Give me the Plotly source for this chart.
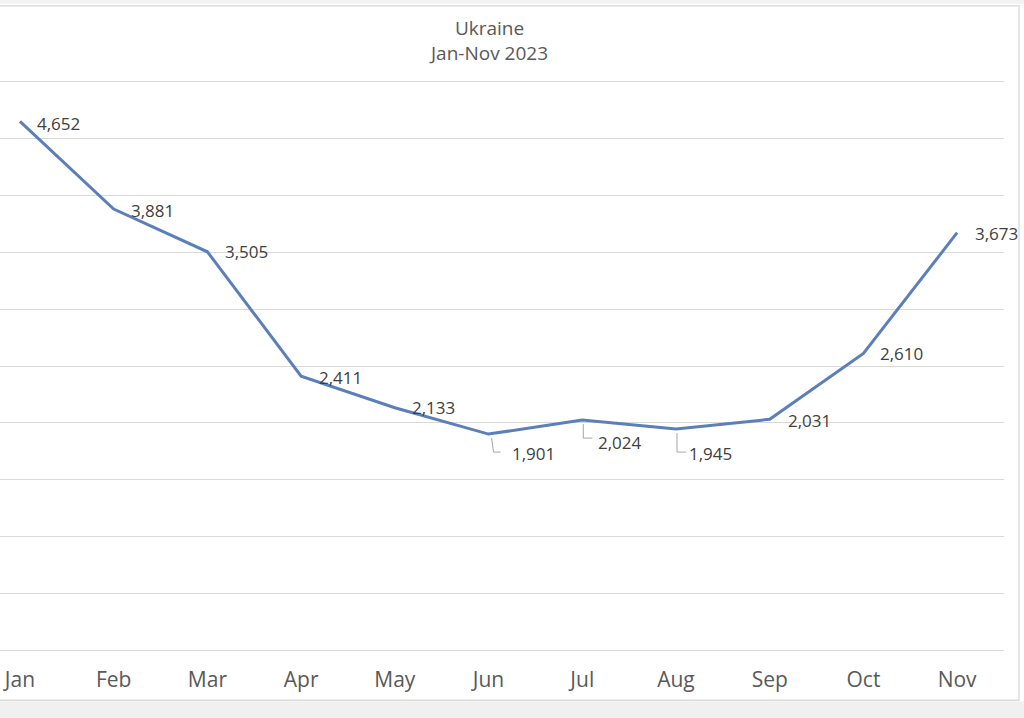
import plotly.graph_objects as go

# ---- data ----
months = ["Jan", "Feb", "Mar", "Apr", "May", "Jun", "Jul", "Aug", "Sep", "Oct", "Nov"]
values = [4652, 3881, 3505, 2411, 2133, 1901, 2024, 1945, 2031, 2610, 3673]
title_lines = ["Ukraine", "Jan-Nov 2023"]

# ---- styling / label placement (screen pixels, dy positive = down) ----
label_dx = [17, 17, 18, 18, 17, 23, 16, 13, 18, 17, 18]
label_dy = [2, 1, 0, 1, 0, 19, 22, 24, 1, 0, 1]
# leader lines (pixel paths relative to point, y up) for moved labels
leaders = {5: "M 3,-4 L 5,-18 L 12,-18",
           6: "M 1,-4 L 1,-18 L 10,-18",
           7: "M 1,-4 L 1,-23 L 10,-23"}

LINE = "#5B7FB9"
GRID = "#D9D9D9"
TXT = "#595959"
LBL = "#404040"
FONT = "Open Sans"

# plot area geometry (pixels)
PAD = 25                     # extra y-range units so edge gridlines are drawn
SCALE = 568 / 5000.0         # px per unit
T = 82 - PAD * SCALE
B = 68 - PAD * SCALE
TOP, BOT = T, 718 - B
H = BOT - TOP


def py(p):
    return (BOT - p) / H


def px(p):
    return p / 1004.0


fig = go.Figure()
fig.add_trace(go.Scatter(
    x=months, y=values, mode="lines",
    line=dict(color=LINE, width=3),
    hoverinfo="x+y", showlegend=False,
))

for i, (m, v) in enumerate(zip(months, values)):
    fig.add_annotation(
        x=m, y=v, xref="x", yref="y", text=f"{v:,}", showarrow=False,
        xanchor="left", yanchor="middle",
        xshift=label_dx[i] - 2, yshift=-label_dy[i],
        font=dict(family=FONT, size=17, color=LBL),
    )

for i, path in leaders.items():
    fig.add_shape(
        type="path", xref="x", yref="y",
        xsizemode="pixel", ysizemode="pixel",
        xanchor=i, yanchor=values[i], path=path,
        line=dict(color="#A6A6A6", width=1),
    )

# title
fig.add_annotation(
    x=px(488), y=py(41), xref="paper", yref="paper",
    text="<br>".join(title_lines), showarrow=False,
    xanchor="center", yanchor="middle", align="center",
    font=dict(family=FONT, size=19, color=TXT),
)

# frame decoration
fig.add_shape(type="rect", xref="paper", yref="paper", x0=px(-5), x1=px(1030),
              y0=py(4), y1=py(-5), line=dict(width=0), fillcolor="#F2F2F2", layer="below")
fig.add_shape(type="rect", xref="paper", yref="paper", x0=px(-5), x1=px(1030),
              y0=py(725), y1=py(701), line=dict(width=0), fillcolor="#F0F0F0", layer="below")
fig.add_shape(type="line", xref="paper", yref="paper", x0=px(-5), x1=px(1019.5),
              y0=py(6), y1=py(6), line=dict(color="#DCDCDC", width=1.5))
fig.add_shape(type="line", xref="paper", yref="paper", x0=px(-5), x1=px(1019.5),
              y0=py(700), y1=py(700), line=dict(color="#DCDCDC", width=1.5))
fig.add_shape(type="line", xref="paper", yref="paper", x0=px(1019), x1=px(1019),
              y0=py(6), y1=py(700), line=dict(color="#DCDCDC", width=1.5))

fig.update_layout(
    width=1024, height=718,
    margin=dict(l=0, r=20, t=T, b=B, pad=0),
    paper_bgcolor="white", plot_bgcolor="white",
    xaxis=dict(type="category", range=[-0.213, 10.5], showgrid=False,
               zeroline=False, showline=False,
               ticks="outside", ticklen=11 - PAD * SCALE, tickcolor="rgba(0,0,0,0)",
               tickfont=dict(family=FONT, size=21, color=TXT)),
    yaxis=dict(range=[-PAD, 5000 + PAD], tick0=0, dtick=500, showgrid=True,
               gridcolor=GRID, gridwidth=1, zeroline=False, showline=False,
               showticklabels=False),
    font=dict(family=FONT),
)

fig.write_html("out.html",
               config={"displayModeBar": False},
               post_script="document.body.style.margin='0';document.body.style.padding='0';")
